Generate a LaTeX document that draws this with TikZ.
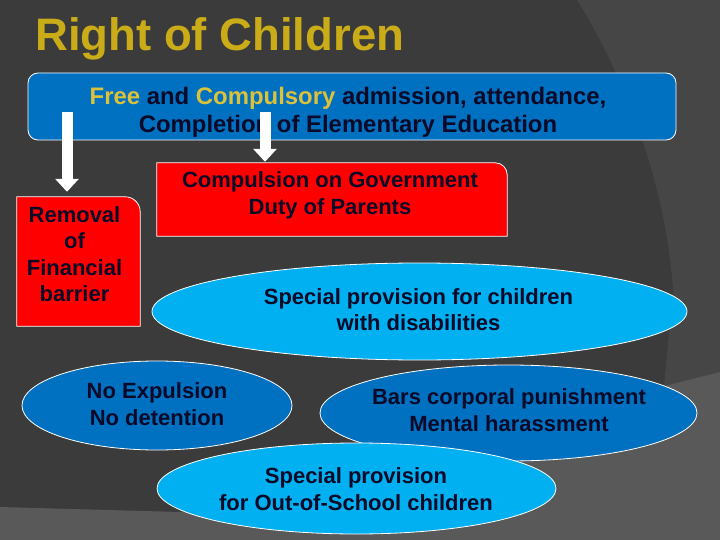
\documentclass[tikz,border=0pt]{standalone}
\usepackage{fontspec}
\setmainfont{Liberation Sans}
\usetikzlibrary{arrows.meta,shapes.geometric,calc}
\definecolor{bgdark}{HTML}{3B3B3B}
\definecolor{bgband}{HTML}{464646}
\definecolor{bglow}{HTML}{595959}
\definecolor{boxblue}{HTML}{0070C0}
\definecolor{lightblue}{HTML}{00B0F0}
\definecolor{boxred}{HTML}{FF0000}
\definecolor{txtdark}{HTML}{0A0A28}
\definecolor{titlegold}{HTML}{C9AC17}
\definecolor{textgold}{HTML}{DCC13A}
\newcommand\bodyfnt{\bfseries\fontsize{22}{26.5}\selectfont}
\newcommand\topfnt{\bfseries\fontsize{23.9}{28}\selectfont}
\tikzset{
  txt/.style={font=\bodyfnt, text=txtdark, align=center, inner sep=0pt},
  toptxt/.style={font=\topfnt, text=txtdark, align=center, inner sep=0pt},
  holder/.style={rectangle, draw=none, inner sep=0pt},
  redshape/.style={fill=boxred, draw=white, line width=0.8pt},
  topbox/.style={rectangle, rounded corners=10pt, fill=boxblue, draw=white, line width=0.8pt, inner sep=0pt},
  ellbase/.style={ellipse, draw=white, line width=0.8pt, inner sep=0pt},
  darkell/.style={ellbase, fill=boxblue},
  lightell/.style={ellbase, fill=lightblue},
  bigarrow/.style={draw=white, line width=11pt, -{Triangle[width=23pt,length=13pt]}},
  titletxt/.style={font=\bfseries\fontsize{45.5}{50}\selectfont, text=titlegold, inner sep=0pt}
}
\begin{document}
\begin{tikzpicture}[x=1pt,y=-1pt]
\useasboundingbox (0,0) rectangle (720,540);
% background
\fill[bgdark] (0,0) rectangle (720,540);
\fill[bgband] (577,0) .. controls (615,60) and (665,170) .. (673,290) -- (664,386) -- (720,372) -- (720,0) -- cycle;
\fill[bglow] (0,507) -- (180,512) -- (560,456) -- (664,386) -- (720,372) -- (720,540) -- (0,540) -- cycle;

% title
\node[titletxt, anchor=base west] (title) at (35,51) {Right of Children};

% top box
\node[topbox, minimum width=648pt, minimum height=67pt] (top) at (352,106.5) {};
\node[toptxt] (topT) at (348,112) {\textcolor{textgold}{Free} and \textcolor{textgold}{Compulsory} admission, attendance,\\Completion of Elementary Education};

% red boxes
\node[holder, minimum width=123pt, minimum height=129pt] (remBox) at (78.5,261.5) {};
\draw[redshape] (remBox.south west) -- (remBox.north west) -- ([xshift=-15pt]remBox.north east) arc[start angle=90, end angle=0, radius=15pt] -- (remBox.south east) -- cycle;
\node[txt] (rem) at (74.5,254) {Removal\\of\\Financial\\barrier};

\node[holder, minimum width=350pt, minimum height=73pt] (compBox) at (332,199.5) {};
\draw[redshape] (compBox.south west) -- (compBox.north west) -- ([xshift=-12pt]compBox.north east) arc[start angle=90, end angle=0, radius=12pt] -- (compBox.south east) -- cycle;
\node[txt] (comp) at (330,195.5) {Compulsion on Government\\Duty of Parents};

% arrows
\coordinate (a1) at (67,112);
\coordinate (a2) at (265,112);
\draw[bigarrow, shorten >=5pt] (a1) -- (a1 |- remBox.north);
\draw[bigarrow, shorten >=1pt] (a2) -- (a2 |- compBox.north);

% ellipses
\node[lightell, minimum width=535pt, minimum height=97pt] (dis) at (419.5,311.5) {};
\node[txt] (disT) at (418.5,309.5) {Special provision for children\\with disabilities};

\node[darkell, minimum width=270pt, minimum height=89pt] (noexp) at (157,405.5) {};
\node[txt] (noexpT) at (157,404) {No Expulsion\\No detention};

\node[darkell, minimum width=377pt, minimum height=96pt] (bars) at (508.5,413) {};
\node[txt] (barsT) at (509,410) {Bars corporal punishment\\Mental harassment};

\node[lightell, minimum width=399pt, minimum height=91pt] (out) at (356.5,488.5) {};
\node[txt] (outT) at (356,489) {Special provision\\for Out-of-School children};
\end{tikzpicture}
\end{document}
